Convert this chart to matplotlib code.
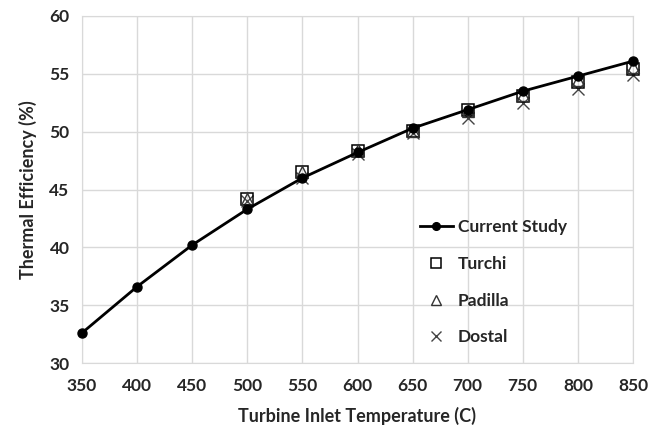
import matplotlib
matplotlib.use("Agg")
import matplotlib.pyplot as plt

temps = [350, 400, 450, 500, 550, 600, 650, 700, 750, 800, 850]
current = [32.6, 36.6, 40.2, 43.3, 46.0, 48.2, 50.3, 51.9, 53.5, 54.8, 56.1]
ref_temps = [500, 550, 600, 650, 700, 750, 800, 850]
turchi = [44.2, 46.5, 48.3, 50.1, 51.9, 53.1, 54.3, 55.4]
padilla = [44.2, 46.5, 48.4, 50.1, 51.8, 53.2, 54.5, 55.6]
dostal = [44.0, 46.0, 48.1, 49.9, 51.2, 52.5, 53.7, 54.9]

plt.rcParams['font.family'] = ['Lato', 'DejaVu Sans']
txt = '#262626'

fig = plt.figure(figsize=(6.66, 4.33), dpi=100)
ax = fig.add_axes([82/666, 1-363/433, (633-82)/666, (363-16)/433])

ax.plot(temps, current, '-o', color='black', lw=2, ms=6.5, label='Current Study', zorder=5, clip_on=False)
ax.plot(ref_temps, turchi, 's', mfc='none', mec='black', ms=8, mew=1.1, ls='none', label='Turchi', zorder=4, clip_on=False)
ax.plot(ref_temps, padilla, '^', mfc='none', mec='#333333', ms=8, mew=1.0, ls='none', label='Padilla', zorder=4, clip_on=False)
ax.plot(ref_temps, dostal, 'x', color='#444444', ms=9, mew=1.0, ls='none', label='Dostal', zorder=3, clip_on=False)

ax.set_xlim(350, 850)
ax.set_ylim(30, 60)
ax.set_xticks(range(350, 851, 50))
ax.set_yticks(range(30, 61, 5))
ax.grid(True, color='#d9d9d9', lw=1)
ax.set_axisbelow(True)
for s in ax.spines.values():
    s.set_color('#d9d9d9')
ax.tick_params(axis='x', length=0, pad=11, colors=txt)
ax.tick_params(axis='y', length=0, pad=9, colors=txt)
for lab in ax.get_xticklabels() + ax.get_yticklabels():
    lab.set_fontweight('bold')
    lab.set_fontsize(12.5)

ax.set_xlabel('Turbine Inlet Temperature (C)', fontsize=13, fontweight='bold', labelpad=9, color=txt)
ax.set_ylabel('Thermal Efficiency (%)', fontsize=13, fontweight='bold', labelpad=9, color=txt)

leg = ax.legend(loc='upper left', bbox_to_anchor=(0.6, 0.435), frameon=False,
                fontsize=12.5, labelspacing=1.2, handlelength=1.9, handletextpad=0.3,
                borderaxespad=0, markerscale=0.85)
for t in leg.get_texts():
    t.set_fontweight('bold')
    t.set_color(txt)

fig.savefig('out.png', dpi=100)
